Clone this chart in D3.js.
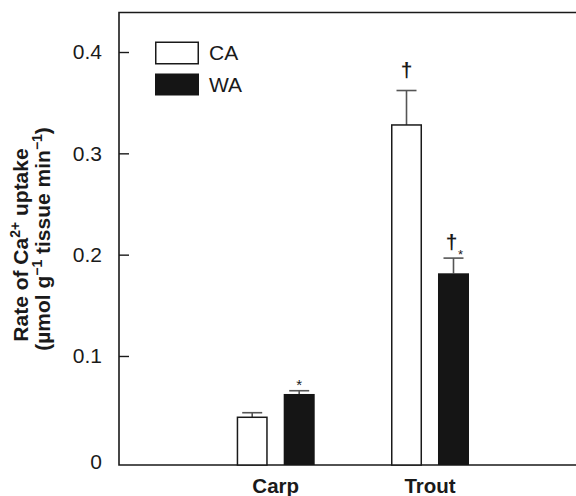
<!DOCTYPE html>
<html><head><meta charset="utf-8">
<script src="https://cdn.jsdelivr.net/npm/d3@7"></script>
<style>
body{margin:0;background:#fff;}
text{font-family:"Liberation Sans",Arial,sans-serif;}
</style></head>
<body><svg id="c" width="576" height="496"></svg>
<script>
const categories = ["Carp","Trout"];
const series = ["CA","WA"];
const caValues = [0.0395, 0.328];
const caErrors = [0.0045, 0.034];
const waValues = [0.0625, 0.1816];
const waErrors = [0.0032, 0.015];
const caMarks = ["", "†"];
const waMarks = ["*", "†*"];
const yTicks = [0.1, 0.2, 0.3, 0.4];
const yTickLabels = ["0.1","0.2","0.3","0.4"];

const svg = d3.select("#c");
const L = 119, R = 580, T = 12.5, B = 465;
const yMin = -0.0076, yMax = 0.439;
const y = d3.scaleLinear().domain([yMin, yMax]).range([B, T]);
const x = d3.scaleBand().domain(categories).range([198.55, 507.15]).padding(0);
const bw = x.bandwidth();
const xs = d3.scaleBand().domain(series).range([bw/2 - 39, bw/2 + 39]).paddingInner(0.34).paddingOuter(0);

const data = [];
categories.forEach((c,i)=>{
  data.push({cat:c, s:"CA", v:caValues[i], e:caErrors[i], m:caMarks[i]});
  data.push({cat:c, s:"WA", v:waValues[i], e:waErrors[i], m:waMarks[i]});
});

// frame
svg.append("path").attr("d",`M${R},${T}H${L}V${B}H${R}`).attr("fill","none").attr("stroke","#1a1a1a").attr("stroke-width",1.6);

// y ticks (inward)
const yAxis = d3.axisLeft(y).tickValues(yTicks).tickFormat((d,i)=>yTickLabels[i]).tickSize(-10).tickPadding(17);
const ga = svg.append("g").attr("transform",`translate(${L},0)`).call(yAxis);
ga.select(".domain").remove();
ga.selectAll(".tick line").attr("stroke","#1a1a1a").attr("stroke-width",1.4);
ga.selectAll(".tick text").attr("font-size",21).attr("fill","#1a1a1a").attr("font-family","Liberation Sans, Arial, sans-serif");
svg.append("text").attr("x",L-17).attr("y",y(yMin)-3).attr("dy","0.32em").attr("text-anchor","end").attr("font-size",21).attr("fill","#1a1a1a").text("0");

// bars
const g = svg.append("g");
data.forEach(d=>{
  const bx = x(d.cat) + xs(d.s);
  const cx = bx + xs.bandwidth()/2;
  g.append("line").attr("x1",cx).attr("x2",cx).attr("y1",y(d.v)).attr("y2",y(d.v+d.e)).attr("stroke","#555").attr("stroke-width",1.6);
  g.append("line").attr("x1",cx-10).attr("x2",cx+10).attr("y1",y(d.v+d.e)).attr("y2",y(d.v+d.e)).attr("stroke","#555").attr("stroke-width",1.6);
  if (d.s==="CA") {
    g.append("rect").attr("x",bx+0.75).attr("y",y(d.v)).attr("width",xs.bandwidth()-1.5).attr("height",y(yMin)-y(d.v)).attr("fill","#fff").attr("stroke","#1a1a1a").attr("stroke-width",1.5);
  } else {
    g.append("rect").attr("x",bx).attr("y",y(d.v)).attr("width",xs.bandwidth()).attr("height",y(yMin)-y(d.v)).attr("fill","#151515");
  }
  const ty = y(d.v+d.e);
  if (d.m === "†") {
    g.append("text").attr("x",cx).attr("y",ty-14).attr("text-anchor","middle").attr("font-size",21).attr("font-weight","bold").attr("fill","#1a1a1a").text("†");
  } else if (d.m === "*") {
    g.append("text").attr("x",cx).attr("y",ty-1).attr("text-anchor","middle").attr("font-size",15).attr("fill","#1a1a1a").text("*");
  } else if (d.m === "†*") {
    g.append("text").attr("x",cx-2).attr("y",ty-9).attr("text-anchor","middle").attr("font-size",21).attr("font-weight","bold").attr("fill","#1a1a1a").text("†");
    g.append("text").attr("x",cx+7).attr("y",ty+1).attr("text-anchor","middle").attr("font-size",13).attr("fill","#1a1a1a").text("*");
  }
});

// x labels
categories.forEach(c=>{
  svg.append("text").attr("x",x(c)+bw/2).attr("y",493).attr("text-anchor","middle").attr("font-size",20.5).attr("font-weight","bold").attr("fill","#1a1a1a").text(c);
});

// legend
const leg = svg.append("g");
series.forEach((s,i)=>{
  const ly = 41.5 + i*32;
  if (s==="CA") leg.append("rect").attr("x",155.75).attr("y",ly+0.75).attr("width",42.5).attr("height",21.5).attr("fill","#fff").attr("stroke","#1a1a1a").attr("stroke-width",1.5);
  else leg.append("rect").attr("x",155).attr("y",ly).attr("width",44).attr("height",22).attr("fill","#151515");
  leg.append("text").attr("x",209).attr("y",ly+18).attr("font-size",21).attr("fill","#1a1a1a").text(s);
});

// y title
const tt = svg.append("text").attr("transform","translate(28,245) rotate(-90)").attr("text-anchor","middle").attr("font-size",21).attr("font-weight","bold").attr("fill","#1a1a1a");
tt.append("tspan").text("Rate of Ca");
tt.append("tspan").attr("font-size",14).attr("dy",-8).text("2+");
tt.append("tspan").attr("dy",8).text(" uptake");
const t2 = svg.append("text").attr("transform","translate(50,239) rotate(-90)").attr("text-anchor","middle").attr("font-size",21).attr("font-weight","bold").attr("fill","#1a1a1a");
t2.append("tspan").text("(µmol g");
t2.append("tspan").attr("font-size",14).attr("dy",-8).text("−1");
t2.append("tspan").attr("dy",8).text(" tissue min");
t2.append("tspan").attr("font-size",14).attr("dy",-8).text("−1");
t2.append("tspan").attr("dy",8).text(")");
</script></body></html>
